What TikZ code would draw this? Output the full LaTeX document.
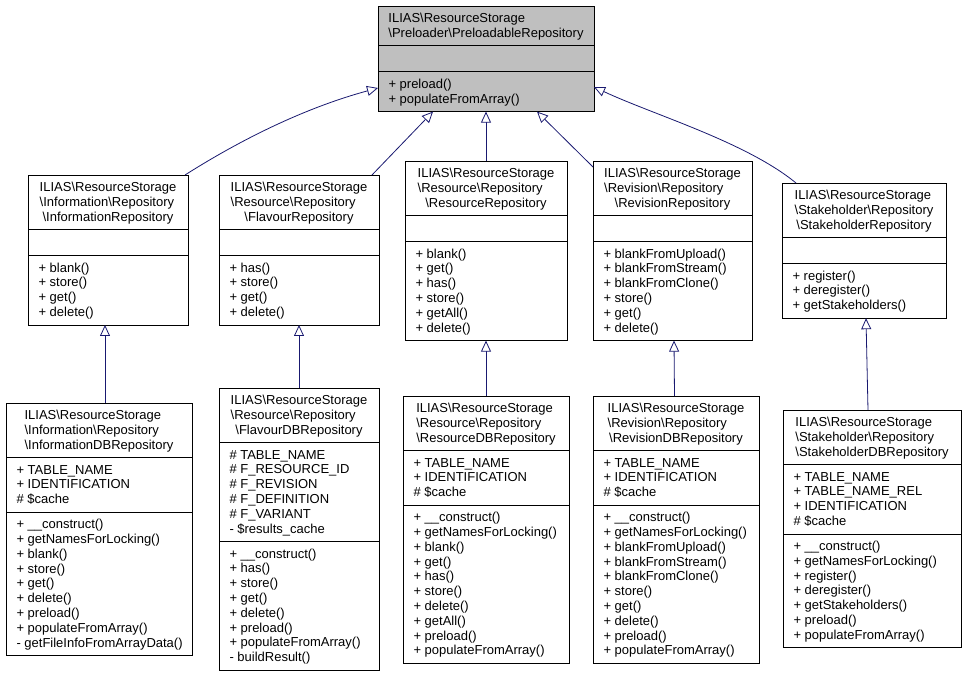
\documentclass[tikz,border=0pt]{standalone}
\usepackage{fontspec}
\setmainfont{Liberation Sans}
\usetikzlibrary{arrows.meta,calc}
\definecolor{edgeblue}{HTML}{191970}
\definecolor{boxgray}{HTML}{BFBFBF}
\newcommand\bsl{\textbackslash}
\newcommand\lastc[1]{\multicolumn{1}{@{}c@{}}{#1}}
\tikzset{
  cls/.style={draw=black, line width=0.9pt, outer sep=0pt, inner sep=0pt},
  sepline/.style={draw=black, line width=0.9pt},
  txt/.style={inner sep=0pt, outer sep=0pt, font=\fontsize{13}{14.8}\selectfont},
  inh/.style={draw=edgeblue, line width=0.8pt, -{Triangle[length=11pt,width=10pt,fill=white]}},
}
\newcommand\cbox[6]{\node[cls, fill=#6, minimum width=#4pt, minimum height=#5pt, anchor=north west] (#1) at (#2,#3) {};}
\newcommand\csep[2]{\draw[sepline] ($(#1.north west)+(0,#2)$) -- ($(#1.north east)+(0,#2)$);}
\newcommand\ctitle[2]{\node[txt,anchor=base] (#1T) at ($(#1.north)+(0,16.5)$) {\begin{tabular}[t]{@{}l@{}}#2\end{tabular}};}
\newcommand\cmem[4]{\node[txt,anchor=base west] (#1#2) at ($(#1.north west)+(10.5,#3+16.5)$) {\begin{tabular}[t]{@{}l@{}}#4\end{tabular}};}
\begin{document}
\begin{tikzpicture}[x=1pt,y=-1pt]
\fill[white] (0,0) rectangle (967,676);
\useasboundingbox (0,0) rectangle (967,676);

% ---------- top ----------
\cbox{top}{378}{6}{216}{105.6}{boxgray}
\csep{top}{39.8}\csep{top}{65.8}
\ctitle{top}{ILIAS\bsl ResourceStorage\\\lastc{\bsl Preloader\bsl PreloadableRepository}}
\cmem{top}{M}{65.8}{+ preload()\\+ populateFromArray()}

% ---------- row 2 ----------
\cbox{info}{28}{175}{160}{150}{white}
\csep{info}{54.6}\csep{info}{80.6}
\ctitle{info}{ILIAS\bsl ResourceStorage\\\bsl Information\bsl Repository\\\lastc{\bsl InformationRepository}}
\cmem{info}{M}{80.6}{+ blank()\\+ store()\\+ get()\\+ delete()}

\cbox{flav}{219}{175}{160}{150}{white}
\csep{flav}{54.6}\csep{flav}{80.6}
\ctitle{flav}{ILIAS\bsl ResourceStorage\\\bsl Resource\bsl Repository\\\lastc{\bsl FlavourRepository}}
\cmem{flav}{M}{80.6}{+ has()\\+ store()\\+ get()\\+ delete()}

\cbox{res}{405}{161}{162}{179.6}{white}
\csep{res}{54.6}\csep{res}{80.6}
\ctitle{res}{ILIAS\bsl ResourceStorage\\\bsl Resource\bsl Repository\\\lastc{\bsl ResourceRepository}}
\cmem{res}{M}{80.6}{+ blank()\\+ get()\\+ has()\\+ store()\\+ getAll()\\+ delete()}

\cbox{rev}{593}{161}{159}{179.6}{white}
\csep{rev}{54.6}\csep{rev}{80.6}
\ctitle{rev}{ILIAS\bsl ResourceStorage\\\bsl Revision\bsl Repository\\\lastc{\bsl RevisionRepository}}
\cmem{rev}{M}{80.6}{+ blankFromUpload()\\+ blankFromStream()\\+ blankFromClone()\\+ store()\\+ get()\\+ delete()}

\cbox{stake}{782}{183}{164}{135.2}{white}
\csep{stake}{54.6}\csep{stake}{80.6}
\ctitle{stake}{ILIAS\bsl ResourceStorage\\\bsl Stakeholder\bsl Repository\\\lastc{\bsl StakeholderRepository}}
\cmem{stake}{M}{80.6}{+ register()\\+ deregister()\\+ getStakeholders()}

% ---------- row 3 ----------
\cbox{infodb}{6}{403}{186}{252.6}{white}
\csep{infodb}{54.6}\csep{infodb}{109.2}
\ctitle{infodb}{ILIAS\bsl ResourceStorage\\\bsl Information\bsl Repository\\\lastc{\bsl InformationDBRepository}}
\cmem{infodb}{A}{54.6}{+ TABLE\_NAME\\+ IDENTIFICATION\\\# \$cache}
\cmem{infodb}{M}{109.2}{+ \_\_construct()\\+ getNamesForLocking()\\+ blank()\\+ store()\\+ get()\\+ delete()\\+ preload()\\+ populateFromArray()\\- getFileInfoFromArrayData()}

\cbox{flavdb}{219}{388}{160}{282.2}{white}
\csep{flavdb}{54.6}\csep{flavdb}{153.6}
\ctitle{flavdb}{ILIAS\bsl ResourceStorage\\\bsl Resource\bsl Repository\\\lastc{\bsl FlavourDBRepository}}
\cmem{flavdb}{A}{54.6}{\# TABLE\_NAME\\\# F\_RESOURCE\_ID\\\# F\_REVISION\\\# F\_DEFINITION\\\# F\_VARIANT\\- \$results\_cache}
\cmem{flavdb}{M}{153.6}{+ \_\_construct()\\+ has()\\+ store()\\+ get()\\+ delete()\\+ preload()\\+ populateFromArray()\\- buildResult()}

\cbox{resdb}{403}{396}{166}{267.4}{white}
\csep{resdb}{54.6}\csep{resdb}{109.2}
\ctitle{resdb}{ILIAS\bsl ResourceStorage\\\bsl Resource\bsl Repository\\\lastc{\bsl ResourceDBRepository}}
\cmem{resdb}{A}{54.6}{+ TABLE\_NAME\\+ IDENTIFICATION\\\# \$cache}
\cmem{resdb}{M}{109.2}{+ \_\_construct()\\+ getNamesForLocking()\\+ blank()\\+ get()\\+ has()\\+ store()\\+ delete()\\+ getAll()\\+ preload()\\+ populateFromArray()}

\cbox{revdb}{593}{396}{166}{267.4}{white}
\csep{revdb}{54.6}\csep{revdb}{109.2}
\ctitle{revdb}{ILIAS\bsl ResourceStorage\\\bsl Revision\bsl Repository\\\lastc{\bsl RevisionDBRepository}}
\cmem{revdb}{A}{54.6}{+ TABLE\_NAME\\+ IDENTIFICATION\\\# \$cache}
\cmem{revdb}{M}{109.2}{+ \_\_construct()\\+ getNamesForLocking()\\+ blankFromUpload()\\+ blankFromStream()\\+ blankFromClone()\\+ store()\\+ get()\\+ delete()\\+ preload()\\+ populateFromArray()}

\cbox{stakedb}{783}{410}{178}{237.8}{white}
\csep{stakedb}{54.6}\csep{stakedb}{124}
\ctitle{stakedb}{ILIAS\bsl ResourceStorage\\\bsl Stakeholder\bsl Repository\\\lastc{\bsl StakeholderDBRepository}}
\cmem{stakedb}{A}{54.6}{+ TABLE\_NAME\\+ TABLE\_NAME\_REL\\+ IDENTIFICATION\\\# \$cache}
\cmem{stakedb}{M}{124}{+ \_\_construct()\\+ getNamesForLocking()\\+ register()\\+ deregister()\\+ getStakeholders()\\+ preload()\\+ populateFromArray()}

% ---------- inheritance edges ----------
\draw[inh] ($(info.north east)+(-3,0)$) .. controls (245,137) and (308,107) .. ($(top.north west)+(0,82)$);
\draw[inh] ($(flav.north east)+(-7,0)$) -- ($(top.south)+(-53,0)$);
\draw[inh] (res.north) -- (top.south);
\draw[inh] ($(rev.north west)+(0,6)$) -- ($(top.south)+(51,0)$);
\draw[inh] ($(stake.north west)+(14,0)$) .. controls (746,142) and (654,115) .. ($(top.north east)+(0,81)$);

\draw[inh] ($(infodb.north west)+(99,0)$) -- ($(info.south west)+(77,0)$);
\draw[inh] (flavdb.north) -- (flav.south);
\draw[inh] (resdb.north) -- (res.south);
\draw[inh] ($(revdb.north)+(-1.5,0)$) -- ($(rev.south)+(1.5,0)$);
\draw[inh] ($(stakedb.north)+(-4,0)$) -- ($(stake.south)+(2,0)$);
\end{tikzpicture}
\end{document}
